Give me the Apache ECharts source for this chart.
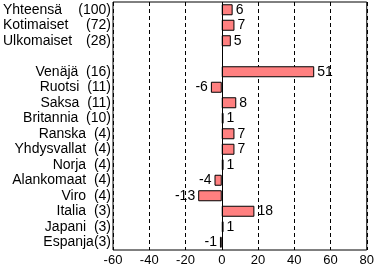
<!DOCTYPE html>
<html><head><meta charset="utf-8">
<script src="https://cdn.jsdelivr.net/npm/echarts@6/dist/echarts.min.js"></script>
<style>html,body{margin:0;padding:0;background:#fff}#c{width:377px;height:271px}</style>
</head><body><div id="c"></div>
<script>
var names = ['Yhteensä','Kotimaiset','Ulkomaiset','','Venäjä','Ruotsi','Saksa','Britannia','Ranska','Yhdysvallat','Norja','Alankomaat','Viro','Italia','Japani','Espanja'];
var counts = ['(100)','(72)','(28)','','(16)','(11)','(11)','(10)','(4)','(4)','(4)','(4)','(4)','(3)','(3)','(3)'];
var values = [6,7,5,null,51,-6,8,1,7,7,1,-4,-13,18,1,-1];
var xTicks = [-60,-40,-20,0,20,40,60,80];

var FONT = '"Liberation Sans", Arial, sans-serif';
var chart = echarts.init(document.getElementById('c'));
var data = values.map(function(v){
  if (v === null) return {value: null};
  return {value: v, label: {position: v < 0 ? 'left' : 'right'}};
});
chart.setOption({
  animation: false,
  grid: {left: 113, right: 9, top: 2, bottom: 21, show: true, borderColor: '#000', borderWidth: 1},
  xAxis: {
    type: 'value', min: xTicks[0], max: xTicks[xTicks.length-1], interval: 20,
    axisLine: {show: false}, axisTick: {show: false},
    axisLabel: {color: '#000', fontFamily: FONT, fontSize: 13, margin: 4},
    splitLine: {show: true, lineStyle: {color: '#000', type: [4,3], width: 1}}
  },
  yAxis: {
    type: 'category', data: names, inverse: true,
    axisLine: {show: false, onZero: false}, axisTick: {show: false},
    axisLabel: {
      color: '#000', fontFamily: FONT, fontSize: 14, margin: 2, interval: 0, align: 'right',
      formatter: function(val, idx){
        if (idx < 3) return '{n|' + val + '}{c|' + counts[idx] + '}';
        if (val === '') return '';
        if (val === 'Espanja') return val + counts[idx];
        return val + '  ' + counts[idx];
      },
      rich: {
        n: {width: 72, align: 'left', fontFamily: FONT, fontSize: 14, color: '#000'},
        c: {width: 36, align: 'right', fontFamily: FONT, fontSize: 14, color: '#000'}
      }
    }
  },
  series: [{
    type: 'bar', data: data, barWidth: 11,
    itemStyle: {color: '#FF8080', borderColor: '#000', borderWidth: 1},
    label: {show: true, color: '#000', fontFamily: FONT, fontSize: 14, distance: 3},
    markLine: {
      silent: true, symbol: 'none', label: {show: false},
      lineStyle: {color: '#000', type: 'solid', width: 1},
      data: [{xAxis: 0}]
    }
  }]
});
</script></body></html>
